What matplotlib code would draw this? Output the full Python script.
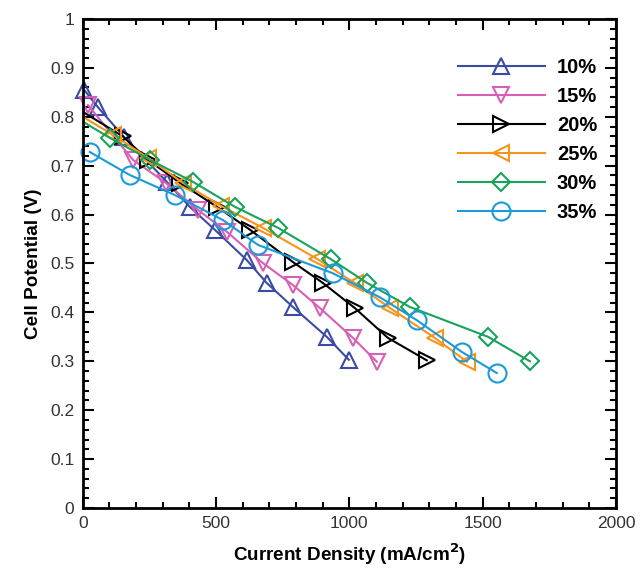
import matplotlib
matplotlib.use("Agg")
import matplotlib.pyplot as plt
from matplotlib.ticker import MultipleLocator

plt.rcParams['font.family'] = ['Liberation Sans', 'DejaVu Sans']

labels = ['10%', '15%', '20%', '25%', '30%', '35%']

x10 = [5, 56, 154, 315, 401, 495, 615, 690, 788, 915, 998]
y10 = [0.855, 0.82, 0.759, 0.667, 0.616, 0.569, 0.507, 0.46, 0.411, 0.35, 0.303]

x15 = [19, 188, 311, 433, 540, 675, 788, 889, 1013, 1103]
y15 = [0.824, 0.712, 0.665, 0.609, 0.565, 0.501, 0.456, 0.409, 0.348, 0.299]

x20 = [0, 150, 244, 364, 503, 627, 788, 901, 1020, 1144, 1290]
y20 = [0.81, 0.76, 0.712, 0.665, 0.616, 0.569, 0.503, 0.46, 0.409, 0.348, 0.302]

x25 = [0, 113, 244, 375, 518, 675, 880, 1020, 1152, 1320, 1441]
y25 = [0.80, 0.763, 0.716, 0.665, 0.618, 0.573, 0.509, 0.46, 0.409, 0.348, 0.299]

x30 = [0, 101, 251, 413, 570, 732, 930, 1067, 1227, 1520, 1677]
y30 = [0.79, 0.757, 0.712, 0.667, 0.616, 0.573, 0.509, 0.46, 0.411, 0.35, 0.30]

x35 = [26, 176, 345, 525, 657, 938, 1114, 1253, 1422, 1553]
y35 = [0.728, 0.681, 0.64, 0.589, 0.538, 0.48, 0.431, 0.384, 0.319, 0.276]

series = [
    (x10, y10, '#3b4ba3', '^', 11, None),
    (x15, y15, '#d660b5', 'v', 11, None),
    (x20, y20, '#000000', '>', 11, slice(1, None)),
    (x25, y25, '#f7941d', '<', 11, slice(1, None)),
    (x30, y30, '#17a35c', 'D', 9, slice(1, None)),
    (x35, y35, '#1b9ad7', 'o', 13, None),
]

fig = plt.figure(figsize=(6.42, 5.70), dpi=100)
ax = fig.add_axes([0.129, 0.1088, 0.8305, 0.8579])

for (xs, ys, c, m, ms, me), lab in zip(series, labels):
    ax.plot(xs, ys, color=c, lw=1.5, marker=m, ms=ms, mfc='none', mec=c,
            mew=1.5, markevery=me, label=lab, clip_on=False if me is None else True)

ax.set_xlim(0, 2000)
ax.set_ylim(0, 1)
ax.xaxis.set_minor_locator(MultipleLocator(100))
ax.yaxis.set_minor_locator(MultipleLocator(0.02))
ax.set_xticks([0, 500, 1000, 1500, 2000])
ax.set_xticklabels(['0', '500', '1000', '1500', '2000'])
ax.set_yticks([0, 0.1, 0.2, 0.3, 0.4, 0.5, 0.6, 0.7, 0.8, 0.9, 1.0])
ax.set_yticklabels(['0', '0.1', '0.2', '0.3', '0.4', '0.5', '0.6', '0.7', '0.8', '0.9', '1'])

ax.tick_params(which='both', direction='in', top=True, right=True,
               labelsize=12.5, labelcolor='#333333', width=1.5, pad=6)
ax.tick_params(which='major', length=8)
ax.tick_params(which='minor', length=4.5)
for s in ax.spines.values():
    s.set_linewidth(2)

ax.set_xlabel('Current Density (mA/cm$^\\mathbf{2}$)', fontsize=13.6, fontweight='bold', labelpad=7)
ax.set_ylabel('Cell Potential (V)', fontsize=13.6, fontweight='bold', labelpad=6)

leg = ax.legend(loc='upper left', bbox_to_anchor=(0.67, 0.957), frameon=False,
                handlelength=4.3, handletextpad=0.6, labelspacing=0.5, numpoints=1,
                prop={'weight': 'bold', 'size': 14.5, 'family': ['Liberation Sans']})

fig.savefig('out.png', dpi=100)
